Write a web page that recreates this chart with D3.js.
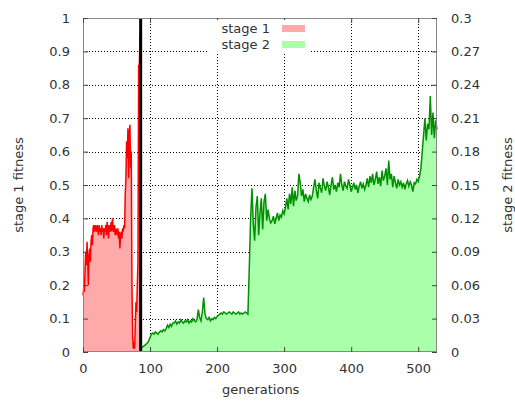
<!DOCTYPE html>
<html>
<head>
<meta charset="utf-8">
<script src="https://cdn.jsdelivr.net/npm/d3@7"></script>
<style>
  body { margin: 0; background: #fff; }
  svg text { font-family: "DejaVu Sans", sans-serif; font-size: 13px; fill: #333; }
</style>
</head>
<body>
<div id="chart"></div>
<script>
// stage 1 fitness, one value per generation starting at 0
const stage1Values = [
  0.17, 0.19, 0.18, 0.24, 0.30, 0.26, 0.33, 0.28, 0.20, 0.29,
  0.31, 0.27, 0.33, 0.35, 0.32, 0.37, 0.38, 0.36, 0.38, 0.37,
  0.36, 0.38, 0.37, 0.35, 0.38, 0.36, 0.37, 0.35, 0.38, 0.36,
  0.37, 0.34, 0.37, 0.36, 0.38, 0.35, 0.39, 0.37, 0.34, 0.38,
  0.36, 0.37, 0.39, 0.36, 0.40, 0.37, 0.36, 0.38, 0.35, 0.37,
  0.36, 0.35, 0.37, 0.34, 0.36, 0.31, 0.35, 0.36, 0.34, 0.37,
  0.36, 0.38, 0.37, 0.47, 0.52, 0.63, 0.58, 0.67, 0.52, 0.65,
  0.68, 0.55, 0.60, 0.20, 0.05, 0.01, 0.03, 0.01, 0.08, 0.15,
  0.12, 0.20, 0.27, 0.86, 0.85, 0.95
];

// stage 2 fitness, every second generation starting at 86
const stage2Start = 86;
const stage2Step = 2;
const stage2Values = [
  0.003, 0.004, 0.005, 0.006, 0.007, 0.008, 0.010, 0.013,
  0.016, 0.017, 0.016, 0.018, 0.017, 0.016, 0.018,
  0.019, 0.018, 0.020, 0.019, 0.021,
  0.024, 0.022, 0.025, 0.023, 0.026,
  0.026, 0.028, 0.025, 0.027, 0.026, 0.029, 0.027, 0.026, 0.028, 0.027, 0.029, 0.026, 0.028, 0.027, 0.030, 0.028, 0.027, 0.029,
  0.038, 0.031, 0.028, 0.036, 0.049, 0.034,
  0.030, 0.029, 0.031, 0.028, 0.030, 0.029, 0.031, 0.030, 0.032,
  0.033, 0.034, 0.035, 0.034, 0.036, 0.035, 0.034, 0.035, 0.036, 0.035, 0.034, 0.036,
  0.035, 0.034, 0.035, 0.036, 0.034, 0.035, 0.034, 0.035, 0.036, 0.035, 0.034, 0.075,
  0.120, 0.147, 0.115, 0.100, 0.130, 0.140, 0.105, 0.125, 0.138, 0.110, 0.135, 0.142, 0.118, 0.128, 0.120, 0.116,
  0.118, 0.122, 0.115, 0.120, 0.125, 0.118, 0.123, 0.121, 0.127, 0.124,
  0.130, 0.138, 0.128, 0.142, 0.133, 0.148, 0.131, 0.145, 0.136, 0.140,
  0.160, 0.152, 0.140, 0.146, 0.135, 0.142, 0.138, 0.135, 0.141, 0.137,
  0.140, 0.148, 0.155, 0.145, 0.138, 0.152, 0.147, 0.143, 0.156, 0.149,
  0.145, 0.153, 0.148, 0.141, 0.150, 0.157, 0.146, 0.150, 0.144, 0.152,
  0.148, 0.160, 0.150, 0.145, 0.153, 0.149, 0.147, 0.155, 0.150, 0.144,
  0.148, 0.152, 0.146, 0.150, 0.143, 0.149, 0.153, 0.147, 0.151, 0.146,
  0.150, 0.156, 0.148, 0.158, 0.152, 0.160, 0.150, 0.155, 0.162, 0.151,
  0.157, 0.149, 0.163, 0.154, 0.158, 0.165, 0.150, 0.172, 0.155, 0.160,
  0.148, 0.158, 0.152, 0.147, 0.155,
  0.150, 0.153, 0.148, 0.152, 0.146, 0.151, 0.154, 0.149, 0.153, 0.150,
  0.144, 0.152, 0.151, 0.155, 0.153, 0.158, 0.165,
  0.180, 0.195, 0.210, 0.190, 0.205, 0.200, 0.230, 0.195, 0.215, 0.192, 0.208, 0.200
];

// generation where stage 1 ends
const stageSwitch = 86;

const xTicks = [0, 100, 200, 300, 400, 500];
const yTicks = [0, 0.1, 0.2, 0.3, 0.4, 0.5, 0.6, 0.7, 0.8, 0.9, 1];
const y2Ticks = [0, 0.03, 0.06, 0.09, 0.12, 0.15, 0.18, 0.21, 0.24, 0.27, 0.3];
const seriesNames = ["stage 1", "stage 2"];

window.onload = () => {
  drawChart();
};

function drawChart() {
  const W = 515, H = 403;
  const margin = { top: 18, right: 78, bottom: 51, left: 83 };
  const width = W - margin.left - margin.right;
  const height = H - margin.top - margin.bottom;

  const stage1 = stage1Values.map((v, i) => ({ gen: i, v: v }));
  const stage2 = stage2Values.map((v, i) => ({ gen: stage2Start + i * stage2Step, v: v }));

  const svg = d3.select("#chart")
    .append("svg")
    .attr("width", W)
    .attr("height", H);

  const g = svg.append("g")
    .attr("transform", `translate(${margin.left},${margin.top})`);

  const x = d3.scaleLinear().domain([0, 528]).range([0, width]);
  const y = d3.scaleLinear().domain([0, 1]).range([height, 0]);
  const y2 = d3.scaleLinear().domain([0, 0.3]).range([height, 0]);

  // dotted grid
  const grid = g.append("g").attr("class", "grid")
    .attr("stroke", "#000")
    .attr("stroke-width", 1)
    .attr("stroke-dasharray", "1,2");
  grid.selectAll("line.gx")
    .data(xTicks)
    .join("line")
    .attr("class", "gx")
    .attr("x1", d => Math.round(x(d)) + 0.5)
    .attr("x2", d => Math.round(x(d)) + 0.5)
    .attr("y1", 0)
    .attr("y2", height);
  grid.selectAll("line.gy")
    .data(yTicks.slice(1, -1))
    .join("line")
    .attr("class", "gy")
    .attr("x1", 0)
    .attr("x2", width)
    .attr("y1", d => Math.round(y(d)) + 0.5)
    .attr("y2", d => Math.round(y(d)) + 0.5);

  // filled areas
  const area1 = d3.area().x(d => x(d.gen)).y0(height).y1(d => y(d.v));
  const area2 = d3.area().x(d => x(d.gen)).y0(height).y1(d => y2(d.v));
  const line1 = d3.line().x(d => x(d.gen)).y(d => y(d.v));
  const line2 = d3.line().x(d => x(d.gen)).y(d => y2(d.v));

  g.append("path").datum(stage1).attr("d", area1).attr("fill", "#ffaaaa");
  g.append("path").datum(stage2).attr("d", area2).attr("fill", "#aaffaa");
  g.append("path").datum(stage1).attr("d", line1)
    .attr("fill", "none").attr("stroke", "#ff0000").attr("stroke-width", 1.5);
  g.append("path").datum(stage2).attr("d", line2)
    .attr("fill", "none").attr("stroke", "#009000").attr("stroke-width", 1.5);

  // stage switch marker
  g.append("line")
    .attr("x1", x(stageSwitch)).attr("x2", x(stageSwitch))
    .attr("y1", 0).attr("y2", height)
    .attr("stroke", "#000").attr("stroke-width", 3);

  // frame
  g.append("rect")
    .attr("x", 0.5).attr("y", 0.5)
    .attr("width", width - 1).attr("height", height - 1)
    .attr("fill", "none").attr("stroke", "#888").attr("stroke-width", 1);

  // axes with inward ticks
  const styleAxis = sel => {
    sel.select(".domain").remove();
    sel.selectAll(".tick line").attr("stroke", "#444");
    sel.selectAll("text").attr("font-size", null).attr("font-family", null);
  };

  g.append("g")
    .attr("transform", `translate(0,${height})`)
    .call(d3.axisBottom(x).tickValues(xTicks).tickSize(-5).tickPadding(12).tickFormat(d => d))
    .call(styleAxis);

  g.append("g")
    .call(d3.axisTop(x).tickValues(xTicks).tickSize(-5).tickFormat(""))
    .call(styleAxis);

  g.append("g")
    .call(d3.axisLeft(y).tickValues(yTicks).tickSize(-5).tickPadding(13).tickFormat(d => d))
    .call(styleAxis);

  g.append("g")
    .attr("transform", `translate(${width},0)`)
    .call(d3.axisRight(y2).tickValues(y2Ticks).tickSize(-5).tickPadding(14).tickFormat(d => d))
    .call(styleAxis);

  // axis titles
  svg.append("text")
    .attr("x", margin.left + x(265))
    .attr("y", 394)
    .attr("text-anchor", "middle")
    .text("generations");

  svg.append("text")
    .attr("transform", `translate(23,${margin.top + height / 2}) rotate(-90)`)
    .attr("text-anchor", "middle")
    .text("stage 1 fitness");

  svg.append("text")
    .attr("transform", `translate(512,${margin.top + height / 2}) rotate(-90)`)
    .attr("text-anchor", "middle")
    .text("stage 2 fitness");

  // key
  const key = svg.append("g");
  key.append("rect")
    .attr("x", 207).attr("y", 20)
    .attr("width", 104).attr("height", 33)
    .attr("fill", "#fff");
  const keyColors = ["#ffaaaa", "#aaffaa"];
  seriesNames.forEach((name, i) => {
    key.append("text")
      .attr("x", 270)
      .attr("y", 33 + i * 16)
      .attr("text-anchor", "end")
      .text(name);
    key.append("rect")
      .attr("x", 282)
      .attr("y", 25 + i * 16)
      .attr("width", 23)
      .attr("height", 7)
      .attr("fill", keyColors[i]);
  });
}
</script>
</body>
</html>
